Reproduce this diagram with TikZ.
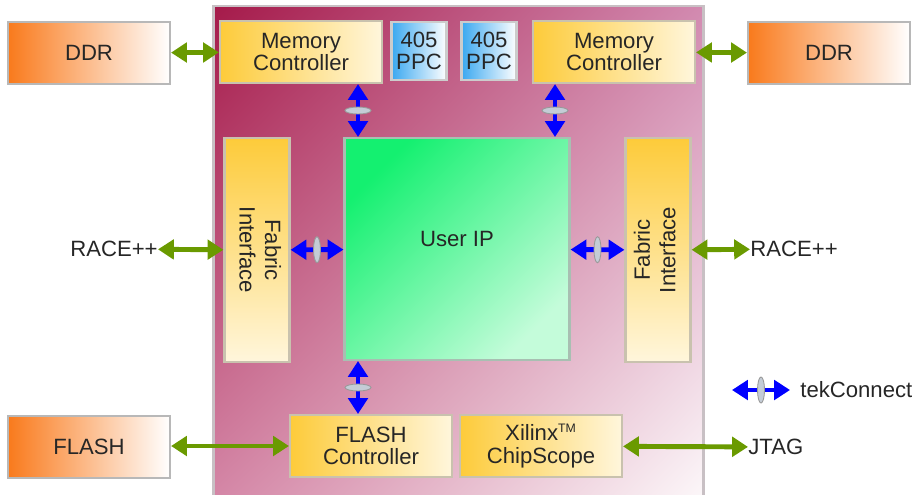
\documentclass[tikz,border=0pt]{standalone}
\usepackage{fontspec}
\setmainfont{Liberation Sans}
\usetikzlibrary{arrows.meta,shapes.geometric,shadings}

\definecolor{fpgaTL}{HTML}{A51A4A}
\definecolor{fpgaTR}{HTML}{D28AB0}
\definecolor{fpgaBL}{HTML}{D486A6}
\definecolor{fpgaBR}{HTML}{FCF7F9}
\definecolor{ddrorange}{HTML}{F97A1C}
\definecolor{ctlyellow}{HTML}{FDCB3A}
\definecolor{ctllight}{HTML}{FFF6DC}
\definecolor{ppcblue}{HTML}{3AA8F0}
\definecolor{ipgreen}{HTML}{14F070}
\definecolor{iplight}{HTML}{C4FCDA}
\definecolor{linkgreen}{HTML}{6A9A00}
\definecolor{ringgray}{HTML}{C4CCD6}
\definecolor{rimgray}{HTML}{C8C0C4}

\begin{document}
\begin{tikzpicture}[x=0.02cm,y=-0.02cm,font=\fontsize{12.6}{12.8}\selectfont,
        every node/.style={inner sep=0pt,align=center,text=black!85},
        fpga/.style={rectangle,draw=rimgray,line width=1.6pt,minimum width=9.8cm,minimum height=9.8cm,
            upper left=fpgaTL,upper right=fpgaTR,lower left=fpgaBL,lower right=fpgaBR},
        box/.style={rectangle,draw=black!28,line width=1.2pt,minimum width=3.24cm,minimum height=1.24cm},
        ddr/.style={box,left color=ddrorange,right color=white},
        ctl/.style={box,draw=ctlyellow!40!black!35,left color=ctlyellow,right color=ctllight},
        ppc/.style={box,draw=black!20,minimum width=1.1cm,minimum height=1.16cm,left color=ppcblue,right color=white},
        fabric/.style={box,draw=ctlyellow!40!black!35,minimum width=1.3cm,minimum height=4.48cm,top color=ctlyellow,bottom color=ctllight},
        userip/.style={box,draw=ipgreen!30!black!35,minimum width=4.5cm,minimum height=4.44cm,
            left color=ipgreen,middle color=ipgreen!45!iplight,right color=iplight,shading angle=45},
        link/.style={linkgreen,line width=2.8pt,{Triangle[length=9pt,width=11pt]}-{Triangle[length=9pt,width=11pt]}},
        tek/.style={blue,line width=2.8pt,{Triangle[length=9pt,width=11pt]}-{Triangle[length=9pt,width=11pt]}},
        ring/.style={ellipse,sloped,draw=black!40,line width=0.5pt,fill=ringgray,minimum width=0.14cm,minimum height=0.52cm}]
        \useasboundingbox (0,0) rectangle (912,494);

        % the FPGA and what sits in it
        \node[fpga] at (458.5,251) (fpga) {};

        \node[ctl] at (301,52) (mcl) {Memory\\Controller};
        \node[ppc] at (419,51) (ppca) {405\\PPC};
        \node[ppc] at (489,51) (ppcb) {405\\PPC};
        \node[ctl] at (614,52) (mcr) {Memory\\Controller};

        \node[fabric] at (257,250) (fabl) {\rotatebox{-90}{\begin{tabular}{@{}c@{}}Fabric\\[1.5pt]Interface\end{tabular}}};
        \node[fabric] at (658,250) (fabr) {\rotatebox{90}{\begin{tabular}{@{}c@{}}Fabric\\[1.5pt]Interface\end{tabular}}};
        \node[userip] at (457,249) (userip) {\raisebox{12pt}{User IP}};

        \node[ctl] at (371,446) (flashctl) {FLASH\\Controller};
        \node[ctl] at (541,446) (chipscope) {Xilinx\textsuperscript{\scriptsize TM}\\ChipScope};

        % outside parts
        \node[ddr] at (89,53) (ddrl) {DDR};
        \node[ddr] at (829,53) (ddrr) {DDR};
        \node[ddr] at (89,447) (flash) {FLASH};
        \node[anchor=east] at (158,249) (racel) {RACE++};
        \node[anchor=west] at (750,249) (racer) {RACE++};
        \node[anchor=west] at (748,447) (jtag) {JTAG};
        \node[anchor=west] at (800,390) (tektext) {tekConnect};

        \coordinate (colA) at (358,0);
        \coordinate (colB) at (555,0);
        \coordinate (keyA) at (732,390);
        \coordinate (keyB) at (790,390);

        % green links to the outside
        \draw[link] (ddrl) -- (mcl);
        \draw[link] (mcr) -- (ddrr);
        \draw[link] (racel) -- (fabl);
        \draw[link] (fabr) -- (racer);
        \draw[link] (flash.east |- flashctl) -- (flashctl);
        \draw[link] (chipscope) -- (jtag);

        % tekConnect links
        \draw[tek] (mcl.south -| colA) -- node[ring] (ringa) {} (userip.north -| colA);
        \draw[tek] (mcr.south -| colB) -- node[ring] (ringb) {} (userip.north -| colB);
        \draw[tek] (fabl) -- node[ring] (ringc) {} (userip);
        \draw[tek] (userip) -- node[ring] (ringd) {} (fabr);
        \draw[tek] (userip.south -| colA) -- node[ring] (ringe) {} (flashctl.north -| colA);
        \draw[tek] (keyA) -- node[ring] (ringkey) {} (keyB);
    \end{tikzpicture}
\end{document}
